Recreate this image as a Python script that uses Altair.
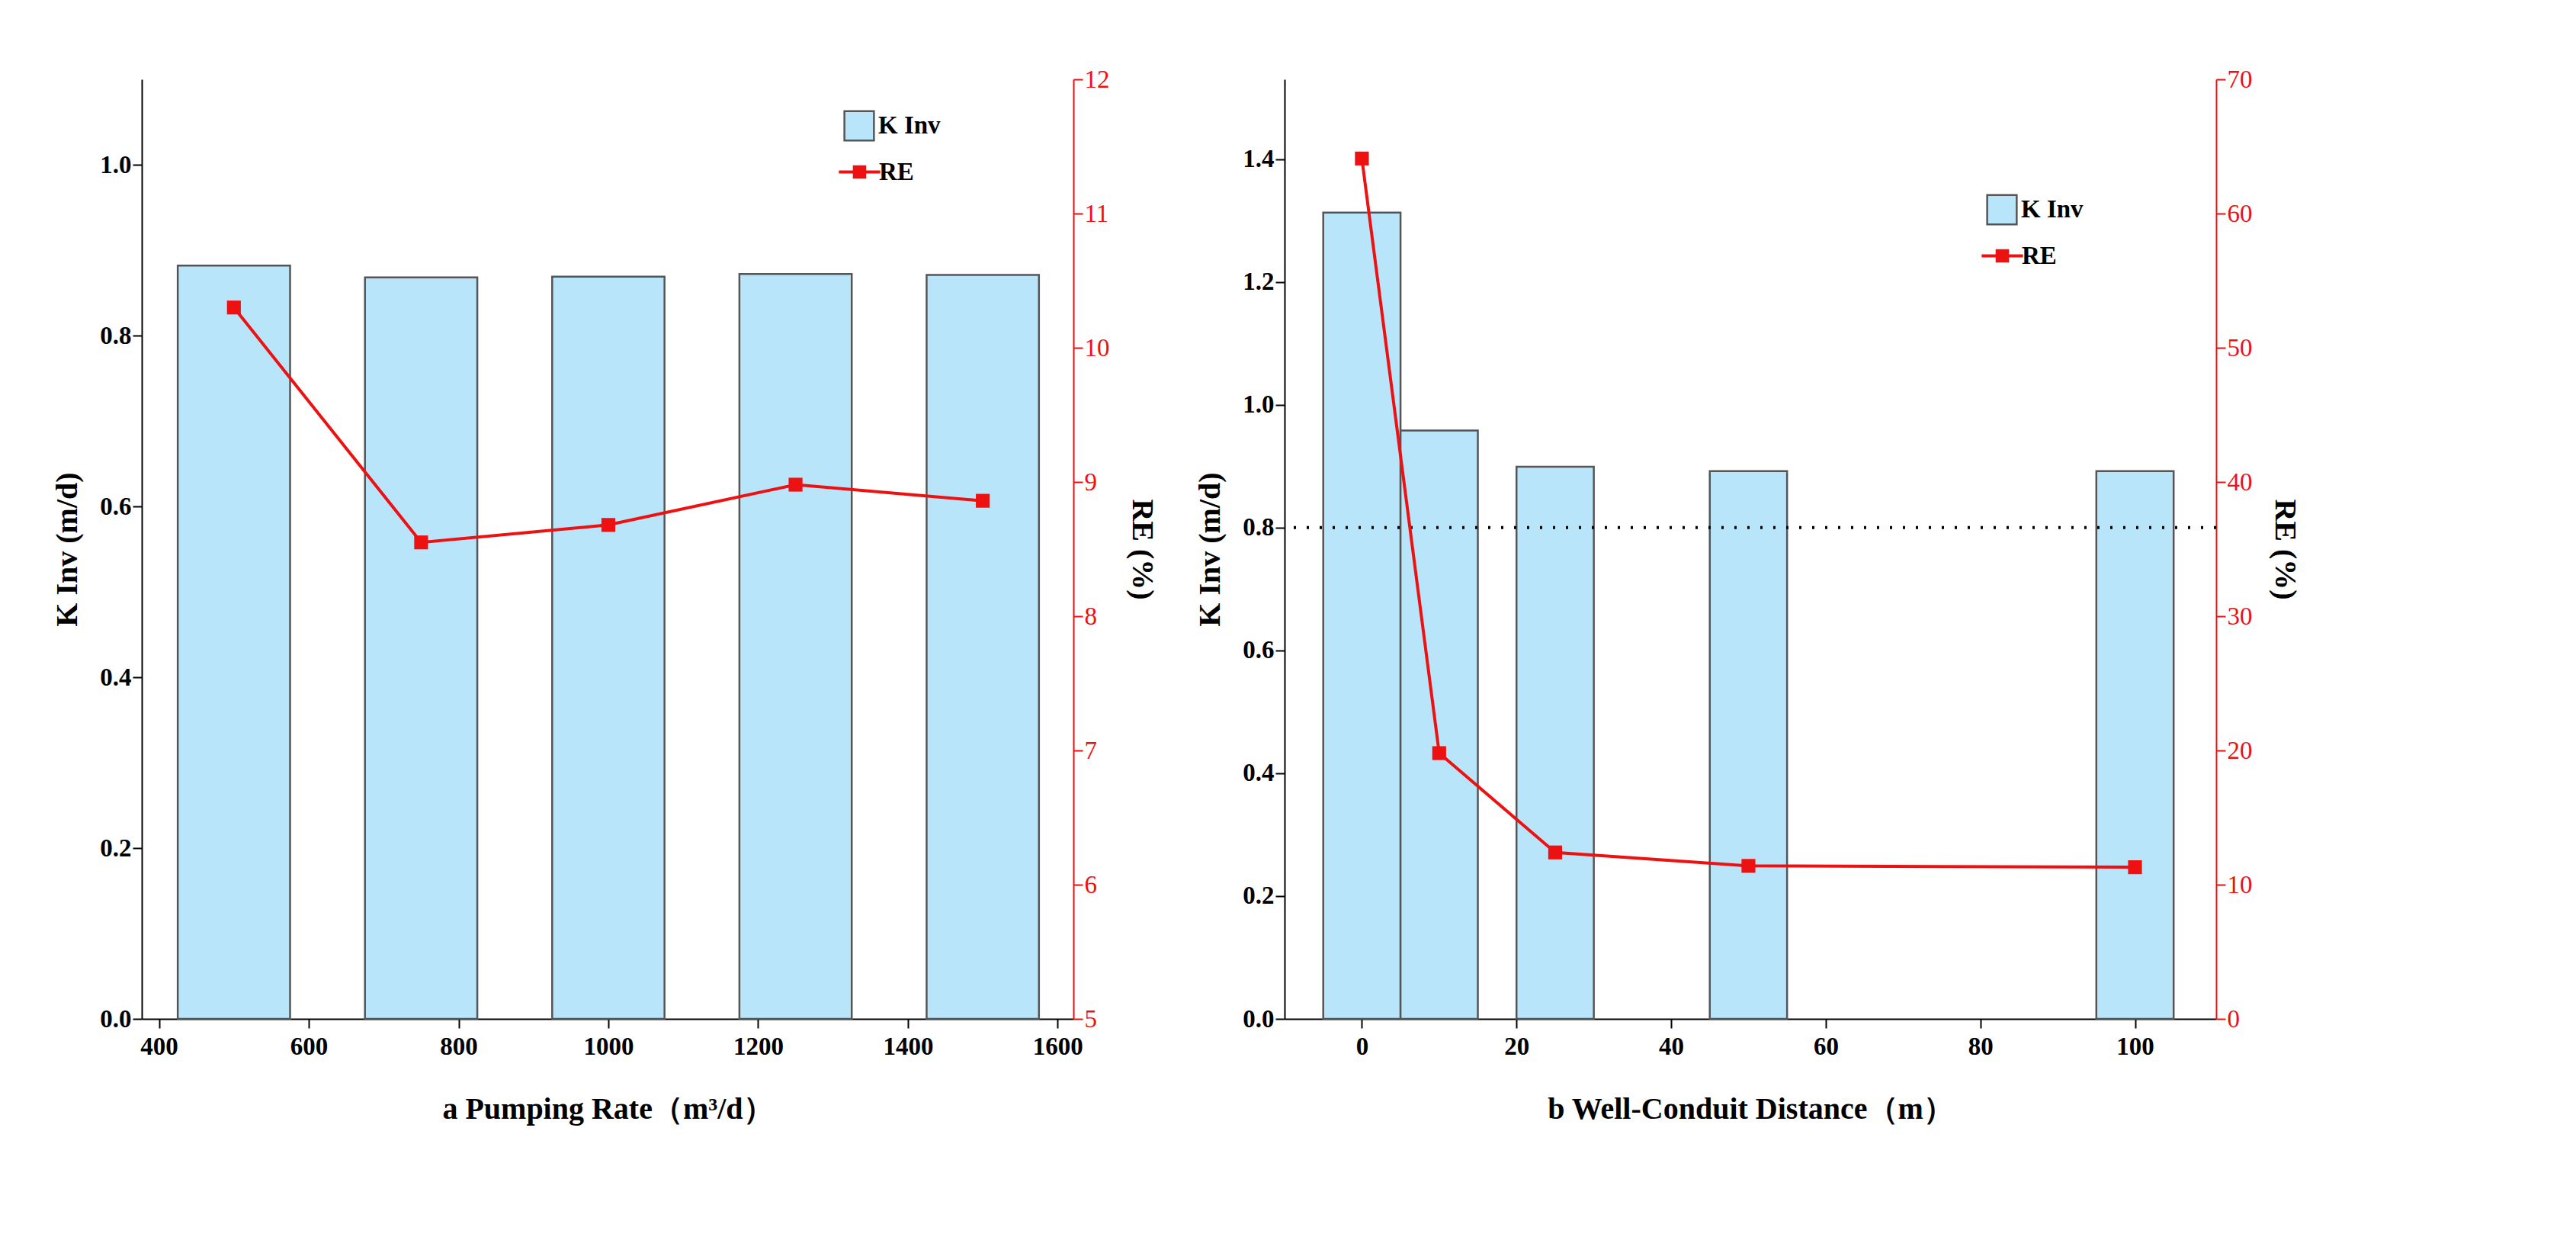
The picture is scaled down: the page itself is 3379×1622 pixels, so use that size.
import altair as alt
import pandas as pd

rate = [500, 750, 1000, 1250, 1500]
k_a = [0.882, 0.868, 0.869, 0.872, 0.871]
re_a = [10.3, 8.55, 8.68, 8.98, 8.86]

dist = [0, 10, 25, 50, 100]
k_b = [1.313, 0.958, 0.899, 0.892, 0.892]
re_b = [64.1, 19.8, 12.4, 11.4, 11.3]
ref_line = [0.8]

FONT = "Liberation Serif"
BLUE = "#b9e5fb"
RED = "#ee1111"
LS = 33
TS = 40


def panel(xs, ks, res, half, xdom, xvals, ldom, lvals, rdom, rvals, xtitle, legy, dotted=False):
    df = pd.DataFrame({"x": xs, "k": ks, "re": res, "s1": "K Inv", "s2": "RE"})
    base = alt.Chart(df)
    bars = base.transform_calculate(x0=f"datum.x-{half}", x1=f"datum.x+{half}").mark_bar(
        stroke="#555555", strokeWidth=2.5).encode(
        x=alt.X("x0:Q", scale=alt.Scale(domain=xdom, nice=False, zero=False),
                axis=alt.Axis(values=xvals, format="d", title=xtitle, grid=False, tickSize=12,
                              domainColor="black", tickColor="black", domainWidth=2, tickWidth=2,
                              labelFont=FONT, labelFontSize=LS, labelFontWeight="bold", labelColor="black",
                              labelPadding=8,
                              titleFont=FONT, titleFontSize=TS, titleFontWeight="bold", titlePadding=45)),
        x2="x1:Q",
        y=alt.Y("k:Q", scale=alt.Scale(domain=ldom, nice=False),
                axis=alt.Axis(values=lvals, format=".1f", title="K Inv (m/d)", grid=False, tickSize=12,
                              domainColor="black", tickColor="black", domainWidth=2, tickWidth=2,
                              labelFont=FONT, labelFontSize=LS, labelFontWeight="bold", labelColor="black",
                              titleFont=FONT, titleFontSize=TS, titleFontWeight="bold", titlePadding=22)),
        y2=alt.Y2(datum=0),
        color=alt.Color("s1:N", scale=alt.Scale(domain=["K Inv"], range=[BLUE]),
                        legend=alt.Legend(title=None, orient="none", legendX=920, legendY=legy,
                                          symbolType="square", symbolSize=1500, symbolStrokeColor="#555555",
                                          symbolStrokeWidth=2.5, labelFont=FONT, labelFontSize=LS,
                                          labelFontWeight="bold", labelColor="black")),
    )
    left_layers = [bars]
    if dotted:
        rdf = pd.DataFrame({"y": ref_line})
        rule = alt.Chart(rdf).mark_rule(color="black", strokeWidth=4, strokeDash=[3, 14]).encode(
            y=alt.Y("y:Q", scale=alt.Scale(domain=ldom, nice=False)))
        left_layers.append(rule)
    left = alt.layer(*left_layers)
    yr = alt.Y("re:Q", scale=alt.Scale(domain=rdom, nice=False),
               axis=alt.Axis(orient="right", values=rvals, format="d", title="RE (%)", grid=False, tickSize=12,
                             domainColor=RED, tickColor=RED, domainWidth=2, tickWidth=2,
                             labelFont=FONT, labelFontSize=LS, labelColor=RED,
                             titleFont=FONT, titleFontSize=TS, titleFontWeight="bold", titleColor="black",
                             titlePadding=22))
    line = base.mark_line(color=RED, strokeWidth=4).encode(
        x=alt.X("x:Q"), y=yr,
        stroke=alt.Stroke("s2:N", scale=alt.Scale(domain=["RE"], range=[RED]),
                          legend=alt.Legend(title=None, orient="none", legendX=920, legendY=legy + 60,
                                            symbolType="M-1.4,0H1.4M-0.35,-0.35H0.35V0.35H-0.35Z",
                                            symbolSize=1500, symbolStrokeWidth=4, symbolFillColor=RED,
                                            labelFont=FONT, labelFontSize=LS, labelFontWeight="bold",
                                            labelColor="black")))
    pts = base.mark_point(shape="square", filled=True, color=RED, size=330, opacity=1).encode(
        x=alt.X("x:Q"), y=alt.Y("re:Q"))
    right = alt.layer(line, pts)
    return alt.layer(left, right).resolve_scale(y="independent").properties(width=1222, height=1232)


pa = panel(rate, k_a, re_a, 75, [377, 1621], [400, 600, 800, 1000, 1200, 1400, 1600],
           [0, 1.1], [0, 0.2, 0.4, 0.6, 0.8, 1.0], [5, 12], [5, 6, 7, 8, 9, 10, 11, 12],
           "a    Pumping Rate（m³/d）", 40)
pb = panel(dist, k_b, re_b, 5, [-10, 110.5], [0, 20, 40, 60, 80, 100],
           [0, 1.53], [0, 0.2, 0.4, 0.6, 0.8, 1.0, 1.2, 1.4], [0, 70], [0, 10, 20, 30, 40, 50, 60, 70],
           "b    Well-Conduit Distance（m）", 150, dotted=True)

chart = alt.hconcat(pa, pb, spacing=50, background="white",
                    padding={"left": 60, "top": 80, "right": 10, "bottom": 10}).resolve_scale(
    color="independent", stroke="independent").resolve_legend(
    color="independent", stroke="independent").configure_view(stroke=None)
chart.save("out.html", embed_options={"renderer": "svg", "actions": False})
